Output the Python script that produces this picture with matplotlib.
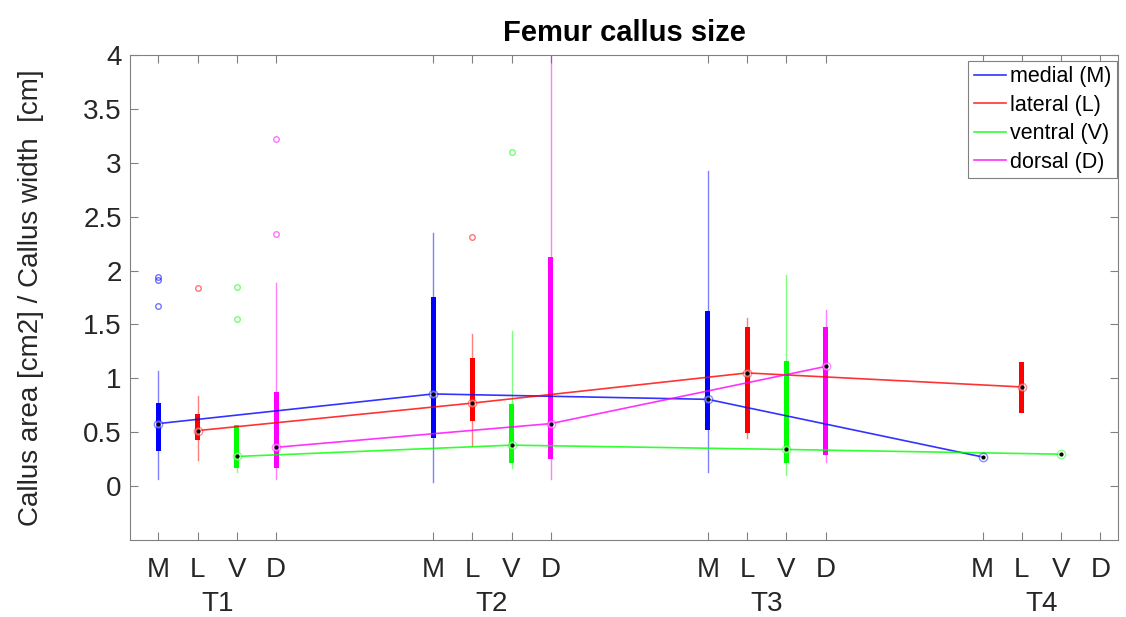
import numpy as np
import matplotlib
matplotlib.use('Agg')
import matplotlib.pyplot as plt
import matplotlib.transforms as mtransforms

plt.rcParams['font.family'] = ['Liberation Sans', 'DejaVu Sans']

# dados (T1..T4)
tempos = ['T1', 'T2', 'T3', 'T4']
lados = ['M', 'L', 'V', 'D']
nomes = ['medial (M)', 'lateral (L)', 'ventral (V)', 'dorsal (D)']
cores = ['#0000ff', '#ff0000', '#00ff00', '#ff00ff']

med_M = [0.58, 0.855, 0.805, 0.27]
q1_M = [0.33, 0.45, 0.52, None]
q3_M = [0.77, 1.75, 1.62, None]
lo_M = [0.07, 0.04, 0.13, None]
hi_M = [1.07, 2.35, 2.92, None]
out_M = [[1.94, 1.91, 1.67], [], [], []]

med_L = [0.515, 0.77, 1.05, 0.92]
q1_L = [0.43, 0.605, 0.49, 0.68]
q3_L = [0.67, 1.19, 1.48, 1.155]
lo_L = [0.24, 0.37, 0.45, 0.68]
hi_L = [0.84, 1.41, 1.56, 1.155]
out_L = [[1.84], [2.31], [], []]

med_V = [0.275, 0.38, 0.34, 0.296]
q1_V = [0.17, 0.21, 0.21, None]
q3_V = [0.57, 0.76, 1.16, None]
lo_V = [0.13, 0.17, 0.10, None]
hi_V = [0.57, 1.44, 1.96, None]
out_V = [[1.85, 1.55], [3.10], [], []]

med_D = [0.36, 0.58, 1.11, None]
q1_D = [0.17, 0.255, 0.29, None]
q3_D = [0.87, 2.13, 1.48, None]
lo_D = [0.07, 0.07, 0.225, None]
hi_D = [1.88, 4.3, 1.63, None]
out_D = [[3.22, 2.34], [], [], []]

yticks = [0, 0.5, 1, 1.5, 2, 2.5, 3, 3.5, 4]
yticklabels = ['0', '0.5', '1', '1.5', '2', '2.5', '3', '3.5', '4']

series = [
    (med_M, q1_M, q3_M, lo_M, hi_M, out_M),
    (med_L, q1_L, q3_L, lo_L, hi_L, out_L),
    (med_V, q1_V, q3_V, lo_V, hi_V, out_V),
    (med_D, q1_D, q3_D, lo_D, hi_D, out_D),
]

fig = plt.figure(figsize=(11.26, 6.17), dpi=100)
ax = fig.add_axes([0.1155, 0.1248, 0.8774, 0.7861])

passo = 7  # distancia entre grupos
handles = []
for k, (med, q1, q3, lo, hi, out) in enumerate(series):
    cor = cores[k]
    pos_all = [1 + k + passo * t for t in range(len(tempos))]
    stats = []
    pos = []
    for t in range(len(tempos)):
        if q1[t] is None:
            continue
        stats.append(dict(med=med[t], q1=q1[t], q3=q3[t], whislo=lo[t],
                          whishi=hi[t], fliers=out[t]))
        pos.append(pos_all[t])
    ax.bxp(stats, positions=pos, widths=0.13, patch_artist=True,
           showcaps=False, manage_ticks=False,
           boxprops=dict(facecolor=cor, edgecolor=cor, linewidth=0),
           whiskerprops=dict(color=cor, alpha=0.5, linewidth=1),
           medianprops=dict(linewidth=0),
           flierprops=dict(marker='o', markerfacecolor='none',
                           markeredgecolor=cor, alpha=0.55, markersize=4,
                           markeredgewidth=1),
           zorder=2)
    xs = [p for p, m in zip(pos_all, med) if m is not None]
    ms = [m for m in med if m is not None]
    h, = ax.plot(xs, ms, color=cor, lw=1.2, alpha=0.8, zorder=3, label=nomes[k])
    handles.append(h)
    ax.plot(xs, ms, ls='none', marker='o', ms=6, mfc='white',
            mec=cor, mew=1, alpha=0.45, zorder=4)
    ax.plot(xs, ms, ls='none', marker='o', ms=2, color='black', zorder=5)

xt = [1 + k + passo * t for t in range(len(tempos)) for k in range(len(lados))]
ax.set_xticks(xt)
ax.set_xticklabels(lados * len(tempos))
ax.set_xlim(0.28, 25.45)
ax.set_ylim(-0.5, 4)
ax.set_yticks(yticks)
ax.set_yticklabels(yticklabels)

trans = mtransforms.blended_transform_factory(ax.transData, ax.transAxes)
for t, nome in enumerate(tempos):
    ax.text(2.5 + passo * t, -0.106, nome, transform=trans, ha='center',
            va='top', fontsize=20, color='#262626')

ax.tick_params(direction='in', top=True, right=True, length=6,
               labelsize=20, colors='#808080', labelcolor='#262626')
ax.tick_params(axis='x', pad=12)
ax.tick_params(axis='y', pad=6)
for s in ax.spines.values():
    s.set_color('#808080')

ax.set_title('Femur callus size', fontsize=21, fontweight='bold', pad=10)
ax.set_ylabel('Callus area [cm2] / Callus width  [cm]', fontsize=20,
              color='#262626', labelpad=28)

leg = ax.legend(handles=handles, loc='upper right', bbox_to_anchor=(0.999, 0.988),
                borderaxespad=0, fontsize=15.5, fancybox=False, framealpha=1,
                edgecolor='#808080', handlelength=1.5, handletextpad=0.2,
                labelspacing=0.35, borderpad=0.25)
leg.get_frame().set_linewidth(0.8)

fig.savefig('out.png', dpi=100)
